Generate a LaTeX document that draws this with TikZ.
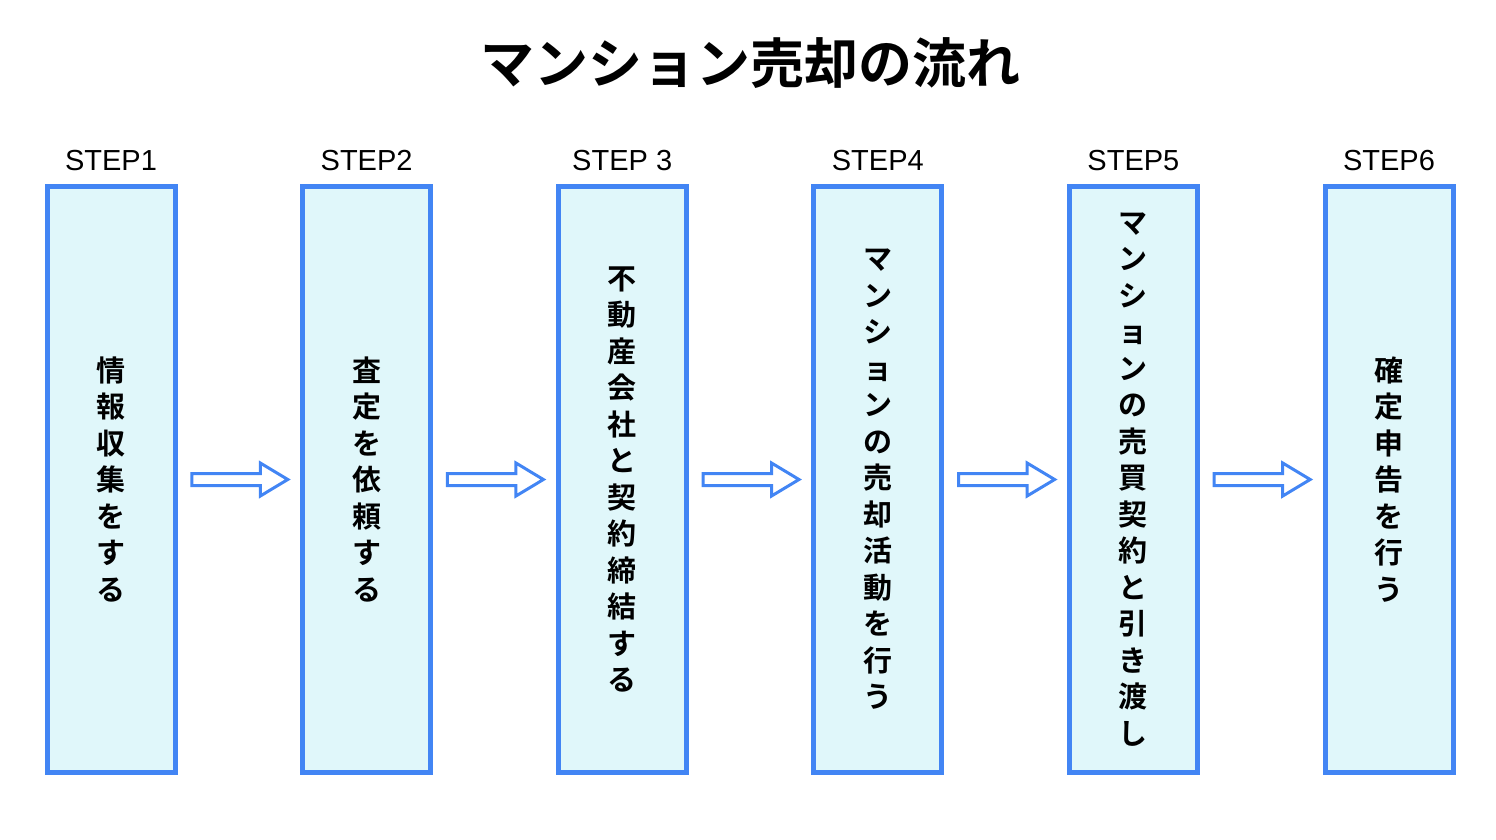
\documentclass[tikz,border=0pt]{standalone}
\usepackage{fontspec}
\setmainfont{Liberation Sans}
\newfontfamily\jpbold{Noto Sans CJK JP Bold}
\usetikzlibrary{shapes,arrows,positioning}
\definecolor{stepblue}{HTML}{4285F4}
\definecolor{stepfill}{HTML}{E0F7FA}
\tikzset{
      stepbox/.style   = {draw=stepblue, fill=stepfill, line width=5pt, minimum width=128pt, minimum height=586pt, inner sep=0pt, align=center, font=\jpbold\fontsize{29}{36.5}\selectfont},
      steplabel/.style = {inner sep=0pt, font=\fontsize{29}{31}\selectfont},
      nextarrow/.style = {single arrow, draw=stepblue, fill=white, line width=3pt, minimum height=96pt, minimum width=33pt, single arrow head extend=10.5pt, single arrow tip angle=62, inner xsep=0pt, inner ysep=4.5pt, xshift=-4pt},
    }

\begin{document}
\begin{tikzpicture}[x=1pt, y=-1pt,
        node distance=255.6pt,
        ]
        \useasboundingbox (0,0) rectangle (1496,840);
        \node [font=\jpbold\fontsize{54}{60}\selectfont] (title) at (750,63) {マンション売却の流れ};

        \node [stepbox] (s1) at (111,479.5) {情\\報\\収\\集\\を\\す\\る};
        \node [stepbox, right of=s1] (s2) {査\\定\\を\\依\\頼\\す\\る};
        \node [stepbox, right of=s2] (s3) {不\\動\\産\\会\\社\\と\\契\\約\\締\\結\\す\\る};
        \node [stepbox, right of=s3] (s4) {マ\\ン\\シ\\ョ\\ン\\の\\売\\却\\活\\動\\を\\行\\う};
        \node [stepbox, right of=s4] (s5) {マ\\ン\\シ\\ョ\\ン\\の\\売\\買\\契\\約\\と\\引\\き\\渡\\し};
        \node [stepbox, right of=s5] (s6) {確\\定\\申\\告\\を\\行\\う};

        \node [steplabel, above=13pt of s1.north] (l1) {STEP1};
        \node [steplabel, above=13pt of s2.north] (l2) {STEP2};
        \node [steplabel, above=13pt of s3.north] (l3) {STEP 3};
        \node [steplabel, above=13pt of s4.north] (l4) {STEP4};
        \node [steplabel, above=13pt of s5.north] (l5) {STEP5};
        \node [steplabel, above=13pt of s6.north] (l6) {STEP6};

        \path (s1.east) -- (s2.west) node [nextarrow, midway] (a12) {};
        \path (s2.east) -- (s3.west) node [nextarrow, midway] (a23) {};
        \path (s3.east) -- (s4.west) node [nextarrow, midway] (a34) {};
        \path (s4.east) -- (s5.west) node [nextarrow, midway] (a45) {};
        \path (s5.east) -- (s6.west) node [nextarrow, midway] (a56) {};

\end{tikzpicture}
\end{document}
